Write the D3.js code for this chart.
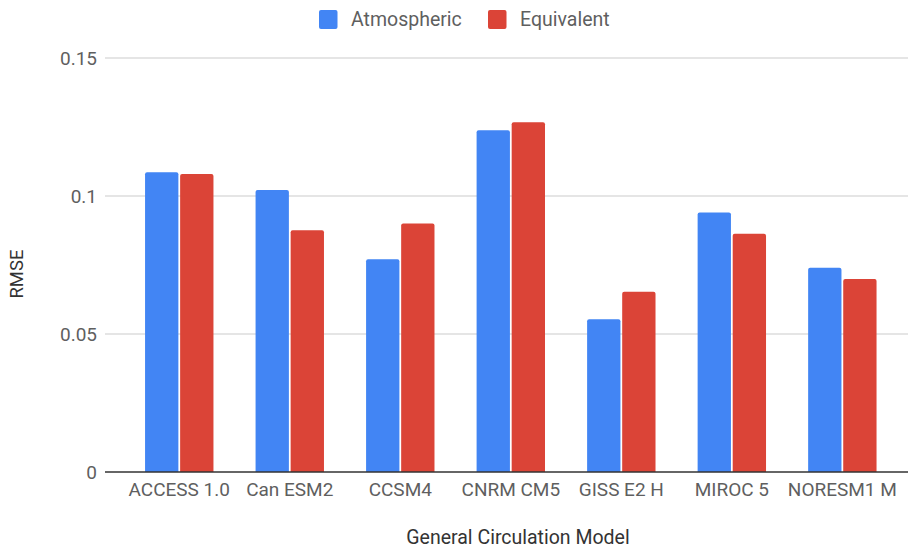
<!DOCTYPE html>
<html>
<head>
<meta charset="utf-8">
<script src="https://cdn.jsdelivr.net/npm/d3@7"></script>
<style>
  html, body { margin: 0; padding: 0; background: #fff; }
  svg { display: block; font-family: Roboto, "Noto Sans", sans-serif; }
</style>
</head>
<body>
<svg id="chart" width="908" height="550"></svg>
<script>
// RMSE of each General Circulation Model, atmospheric vs. equivalent
const models = ["ACCESS 1.0", "Can ESM2", "CCSM4", "CNRM CM5", "GISS E2 H", "MIROC 5", "NORESM1 M"];
const atmospheric = [0.1086, 0.1022, 0.0771, 0.1238, 0.0553, 0.0940, 0.0740];
const equivalent  = [0.1080, 0.0876, 0.0900, 0.1267, 0.0653, 0.0863, 0.0699];
const seriesNames = ["Atmospheric", "Equivalent"];
const seriesColors = ["#4285f4", "#db4437"];
const yTicks = [0, 0.05, 0.1, 0.15];
const yTickLabels = ["0", "0.05", "0.1", "0.15"];

const svg = d3.select("#chart");
const plotLeft = 105, plotRight = 908, plotTop = 58, plotBottom = 472;

const x = d3.scaleBand().domain(models).range([124, 897.6]);
const groupWidth = 68.4;
const xs = d3.scaleBand().domain(seriesNames).range([0, groupWidth]).paddingInner(0.05);
const y = d3.scaleLinear().domain([0, 0.15]).range([plotBottom, plotTop]);

// Gridlines
svg.append("g").selectAll("line")
  .data(yTicks.filter(t => t > 0))
  .join("line")
  .attr("x1", plotLeft).attr("x2", plotRight)
  .attr("y1", d => y(d)).attr("y2", d => y(d))
  .attr("stroke", "#cccccc").attr("stroke-width", 1.2);

// Y tick labels
svg.append("g").selectAll("text")
  .data(yTicks)
  .join("text")
  .attr("x", 97).attr("y", d => y(d) + 6.5)
  .attr("text-anchor", "end")
  .attr("font-size", 19)
  .attr("fill", "#5f5f5f")
  .text((d, i) => yTickLabels[i]);

// Bars with rounded top corners
function barPath(x0, w, top, bottom, r) {
  r = Math.min(r, w / 2, (bottom - top));
  return `M${x0},${bottom}V${top + r}Q${x0},${top} ${x0 + r},${top}` +
         `H${x0 + w - r}Q${x0 + w},${top} ${x0 + w},${top + r}V${bottom}Z`;
}
const rows = models.map((m, i) => ({ model: m, values: [atmospheric[i], equivalent[i]] }));
const groups = svg.append("g").selectAll("g")
  .data(rows)
  .join("g")
  .attr("transform", d => `translate(${x(d.model) + (x.bandwidth() - groupWidth) / 2},0)`);
groups.selectAll("path")
  .data(d => d.values.map((v, k) => ({ key: seriesNames[k], value: v, k })))
  .join("path")
  .attr("d", d => barPath(xs(d.key), xs.bandwidth(), y(d.value), y(0), 2))
  .attr("fill", d => seriesColors[d.k]);

// Baseline
svg.append("line")
  .attr("x1", plotLeft).attr("x2", plotRight)
  .attr("y1", y(0)).attr("y2", y(0))
  .attr("stroke", "#333333").attr("stroke-width", 1.6);

// X labels
svg.append("g").selectAll("text")
  .data(models)
  .join("text")
  .attr("x", d => x(d) + x.bandwidth() / 2)
  .attr("y", 496)
  .attr("text-anchor", "middle")
  .attr("font-size", 19)
  .attr("fill", "#5f5f5f")
  .text(d => d);

// Axis titles
svg.append("text")
  .attr("x", 518).attr("y", 543.5)
  .attr("text-anchor", "middle")
  .attr("font-size", 19.5)
  .attr("fill", "#333333")
  .text("General Circulation Model");

svg.append("text")
  .attr("transform", "translate(23,274) rotate(-90)")
  .attr("text-anchor", "middle")
  .attr("font-size", 18.5)
  .attr("fill", "#333333")
  .text("RMSE");

// Legend
const legendItems = [
  { name: seriesNames[0], color: seriesColors[0], x: 319 },
  { name: seriesNames[1], color: seriesColors[1], x: 488 }
];
const lg = svg.append("g").selectAll("g").data(legendItems).join("g")
  .attr("transform", d => `translate(${d.x},10)`);
lg.append("rect")
  .attr("width", 18.5).attr("height", 19).attr("rx", 2)
  .attr("fill", d => d.color);
lg.append("text")
  .attr("x", 32).attr("y", 16)
  .attr("font-size", 19.5)
  .attr("fill", "#5f5f5f")
  .text(d => d.name);
</script>
</body>
</html>
